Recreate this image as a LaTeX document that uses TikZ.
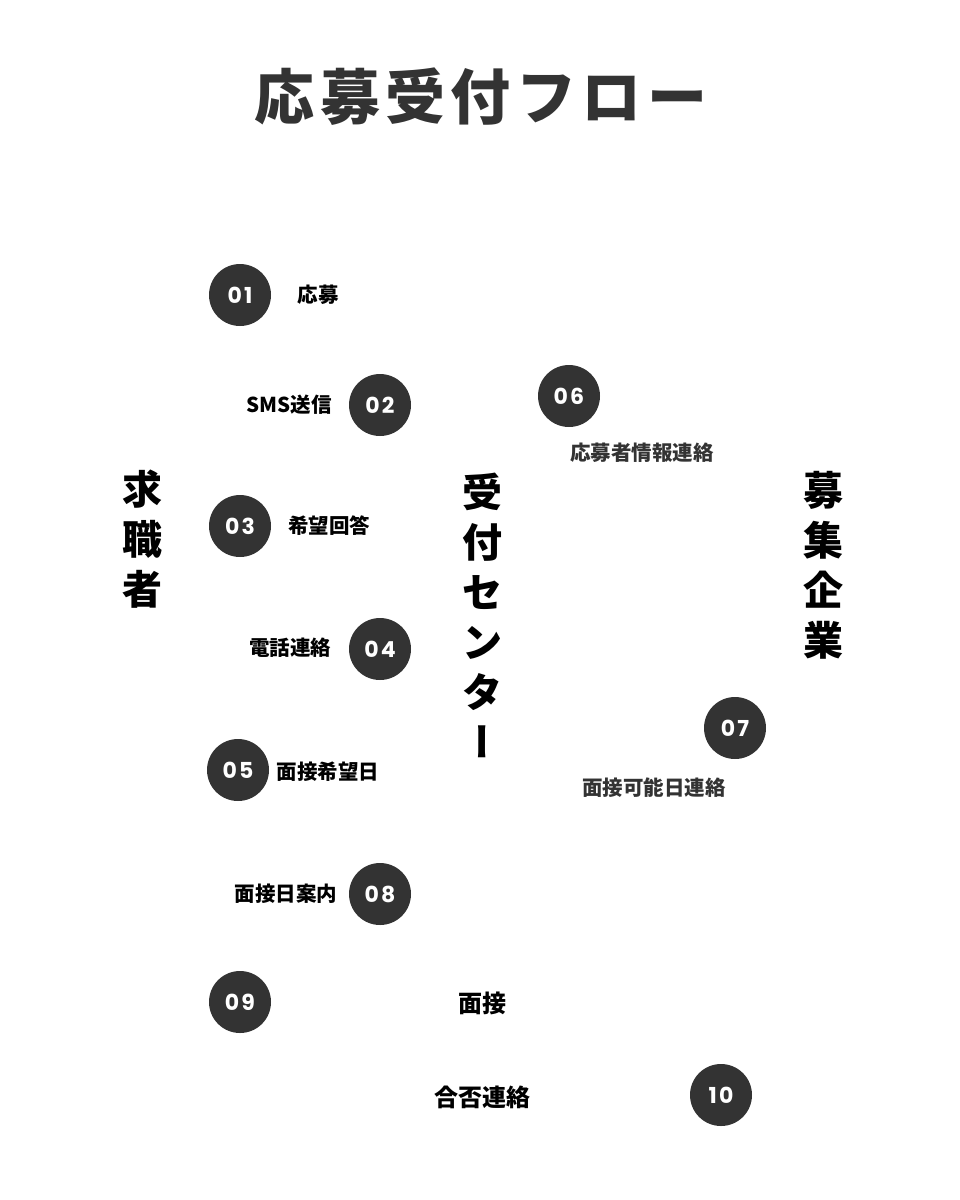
\documentclass[tikz,border=0pt]{standalone}
\usepackage{fontspec}
\setmainfont{Noto Sans CJK JP}
\newfontfamily\numfont{Poppins}
\usepackage{tikz}

\definecolor{ink}{HTML}{333333}

\tikzset{
	step circle/.style={circle, fill=ink, minimum size=62pt, inner sep=0pt, text=white,
		font=\numfont\bfseries\fontsize{22}{22}\selectfont\addfontfeature{LetterSpace=10}},
	step label/.style={font=\bfseries\fontsize{20.5}{20.5}\selectfont, text=black, inner sep=0pt},
	actor/.style={font=\bfseries\fontsize{40}{50}\selectfont, align=center, text=black, inner sep=0pt}
}

\begin{document}
\begin{tikzpicture}[x=1pt, y=-1pt]
	\useasboundingbox (0,0) rectangle (960,1200);
	% title
	\node[font=\bfseries\fontsize{60}{60}\selectfont\addfontfeature{LetterSpace=9}, text=ink] (title) at (481,97) {応募受付フロー};
	% the three parties
	\node[actor] (seeker) at (142,539) {求\\職\\者};
	\node[actor] (center) at (482,615) {受\\付\\セ\\ン\\タ\\{\addfontfeature{RawFeature=+vert}ー}};
	\node[actor] (company) at (823,565) {募\\集\\企\\業};
	% steps
	\node[step circle] (s01) at (240,295) {01};
	\node[step label] (l01) at (318,295) {応募};
	\node[step circle] (s02) at (380,405) {02};
	\node[step label] (l02) at (289,405) {SMS送信};
	\node[step circle] (s03) at (240,526) {03};
	\node[step label] (l03) at (329,526) {希望回答};
	\node[step circle] (s04) at (380,649) {04};
	\node[step label] (l04) at (290,648) {電話連絡};
	\node[step circle] (s05) at (238,770) {05};
	\node[step label] (l05) at (328,772) {面接希望日};
	\node[step circle] (s06) at (569,396) {06};
	\node[step label, text=ink] (l06) at (642,453) {応募者情報連絡};
	\node[step circle] (s07) at (735,728) {07};
	\node[step label, text=ink] (l07) at (654,788) {面接可能日連絡};
	\node[step circle] (s08) at (380,894) {08};
	\node[step label] (l08) at (286,894) {面接日案内};
	\node[step circle] (s09) at (240,1002) {09};
	\node[step label, font=\bfseries\fontsize{24}{24}\selectfont] (l09) at (482,1003) {面接};
	\node[step circle] (s10) at (721,1095) {10};
	\node[step label, font=\bfseries\fontsize{24}{24}\selectfont] (l10) at (482,1097) {合否連絡};
\end{tikzpicture}
\end{document}
